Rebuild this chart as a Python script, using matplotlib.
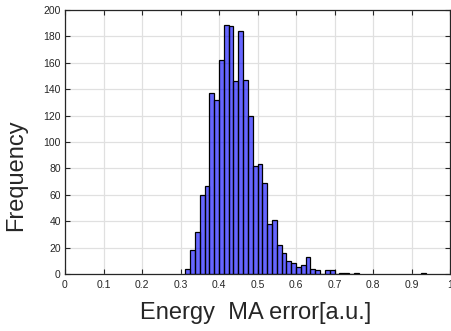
import numpy as np
import matplotlib
matplotlib.use("Agg")
import matplotlib.pyplot as plt

# histogram of energy MA error (bin width 0.0125)
bin_width = 0.0125
bin_start = [0.3125, 0.325, 0.3375, 0.35, 0.3625, 0.375, 0.3875, 0.4,
             0.4125, 0.425, 0.4375, 0.45, 0.4625, 0.475, 0.4875, 0.5,
             0.5125, 0.525, 0.5375, 0.55, 0.5625, 0.575, 0.5875, 0.6,
             0.6125, 0.625, 0.6375, 0.65, 0.6625, 0.675, 0.6875, 0.7,
             0.7125, 0.725, 0.7375, 0.75, 0.925]
counts = [4, 18, 32, 60, 67, 137, 132, 162,
          189, 188, 146, 184, 147, 120, 82, 83,
          69, 38, 41, 22, 16, 10, 8, 5,
          7, 13, 4, 3, 0, 3, 3, 0,
          1, 1, 0, 1, 1]

xticks = np.round(np.arange(0, 1.0001, 0.1), 1)
xtick_labels = ["0", "0.1", "0.2", "0.3", "0.4", "0.5",
                "0.6", "0.7", "0.8", "0.9", "1"]
yticks = np.arange(0, 201, 20)

plt.rcParams["font.family"] = ["Liberation Sans", "DejaVu Sans"]

W, H = 451, 331
fig = plt.figure(figsize=(W / 100, H / 100), dpi=100)
ax = fig.add_axes([65 / W, (H - 274) / H, 385 / W, 264 / H])

ax.bar(bin_start, counts, width=bin_width, align="edge",
       color=(0.0, 0.0, 1.0, 0.6), edgecolor="black", linewidth=0.9,
       zorder=3)

ax.set_xlim(0, 1)
ax.set_ylim(0, 200)
ax.set_xticks(xticks)
ax.set_xticklabels(xtick_labels)
ax.set_yticks(yticks)

ax.grid(True, color="#e0e0e0", linewidth=0.9, zorder=0)
ax.set_axisbelow(True)
ax.tick_params(direction="in", length=3.5, width=0.8, labelsize=7.5,
               colors="#262626", top=True, right=True)
ax.tick_params(axis="x", pad=4)
ax.tick_params(axis="y", pad=3)
for s in ax.spines.values():
    s.set_color("#262626")
    s.set_linewidth(0.9)

fig.text(16 / W, 1 - 175 / H, "Frequency", rotation=90, ha="center",
         va="center", fontsize=17, color="#262626")
fig.text(256 / W, 1 - 313 / H, "Energy  MA error[a.u.]", ha="center",
         va="center", fontsize=17, color="#262626")

fig.savefig("out.png", dpi=100)
